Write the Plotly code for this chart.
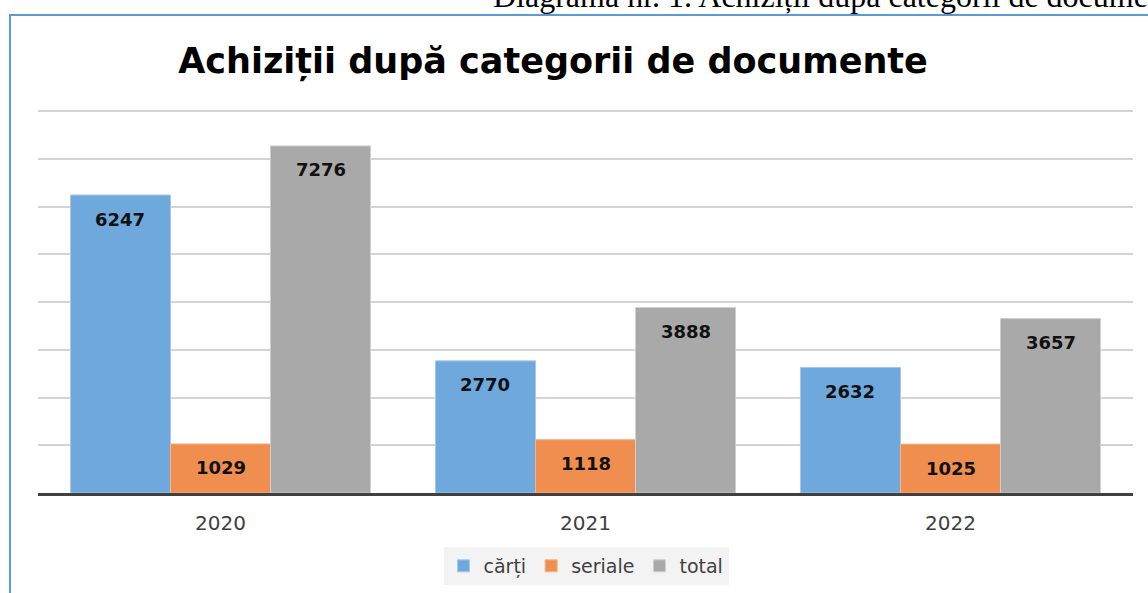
import plotly.graph_objects as go

years = ["2020", "2021", "2022"]
series_names = ["cărți", "seriale", "total"]
carti = [6247, 2770, 2632]
seriale = [1029, 1118, 1025]
total = [7276, 3888, 3657]
colors = ["#6fa8dc", "#ef8e4e", "#a9a9a9"]
edge_colors = ["#a8c8ea", "#f5b48a", "#cfcfcf"]

title_text = "Achiziții după categorii de documente"
header_text = "Diagrama nr. 1. Achiziții după categorii de documente"

W, H = 1148, 593
ML, MR, MT, MB = 38, 15, 109, 100
PW = W - ML - MR
PH = H - MT - MB
BARGAP = 0.178
YMAX = 8050


def px_x(px):
    return (px - ML) / PW


def px_y(py):
    return (H - MB - py) / PH


fig = go.Figure()
all_series = [carti, seriale, total]
for name, vals, col, ec in zip(series_names, all_series, colors, edge_colors):
    fig.add_trace(go.Bar(
        x=years, y=vals, name=name,
        marker=dict(color=col, line=dict(color=ec, width=1)),
        hoverinfo="x+y+name",
    ))

# data labels (inside end)
w = (1 - BARGAP) / 3
annotations = []
for j, vals in enumerate(all_series):
    for i, v in enumerate(vals):
        annotations.append(dict(
            x=i + (j - 1) * w, y=v, xref="x", yref="y",
            text=str(v), showarrow=False, yanchor="middle", yshift=-24,
            font=dict(family="DejaVu Sans", size=18, color="#111111", weight="bold"),
        ))

# cut-off header caption above the chart frame
annotations.append(dict(
    x=px_x(491), y=px_y(16), xref="paper", yref="paper",
    xanchor="left", yanchor="bottom", showarrow=False,
    text=header_text,
    font=dict(family="Liberation Serif", size=32, color="#000000"),
))

fig.update_layout(
    width=W, height=H,
    margin=dict(l=ML, r=MR, t=MT, b=MB, autoexpand=False),
    paper_bgcolor="white", plot_bgcolor="white",
    barmode="group", bargap=BARGAP, bargroupgap=0,
    title=dict(
        text=title_text, x=553 / W, xref="container", xanchor="center",
        y=1 - 61 / H, yref="container", yanchor="middle",
        font=dict(family="DejaVu Sans", size=35, color="#000000", weight="bold"),
    ),
    xaxis=dict(
        showline=True, linecolor="#404040", linewidth=3,
        ticks="", tickfont=dict(family="DejaVu Sans", size=20, color="#404040"),
        ticklabelstandoff=10,
        showgrid=False,
    ),
    yaxis=dict(
        range=[0, YMAX], dtick=1000, showticklabels=False,
        showgrid=True, gridcolor="#d4d4d4", gridwidth=2,
        zeroline=False, showline=False,
    ),
    legend=dict(
        orientation="h", x=px_x(586), xanchor="center", y=px_y(566), yanchor="middle",
        bgcolor="#f3f3f3", font=dict(family="DejaVu Sans", size=19, color="#404040"),
        itemwidth=30, traceorder="normal",
    ),
    annotations=annotations,
    shapes=[dict(
        type="rect", xref="paper", yref="paper",
        x0=px_x(10), x1=px_x(1160), y0=px_y(610), y1=px_y(15),
        line=dict(color="#5b9bd5", width=2), fillcolor="rgba(0,0,0,0)", layer="below",
    )],
    showlegend=True,
)

fig.write_html(
    "out.html",
    config={"displayModeBar": False},
    post_script="document.body.style.margin='0';document.body.style.overflow='hidden';",
)
